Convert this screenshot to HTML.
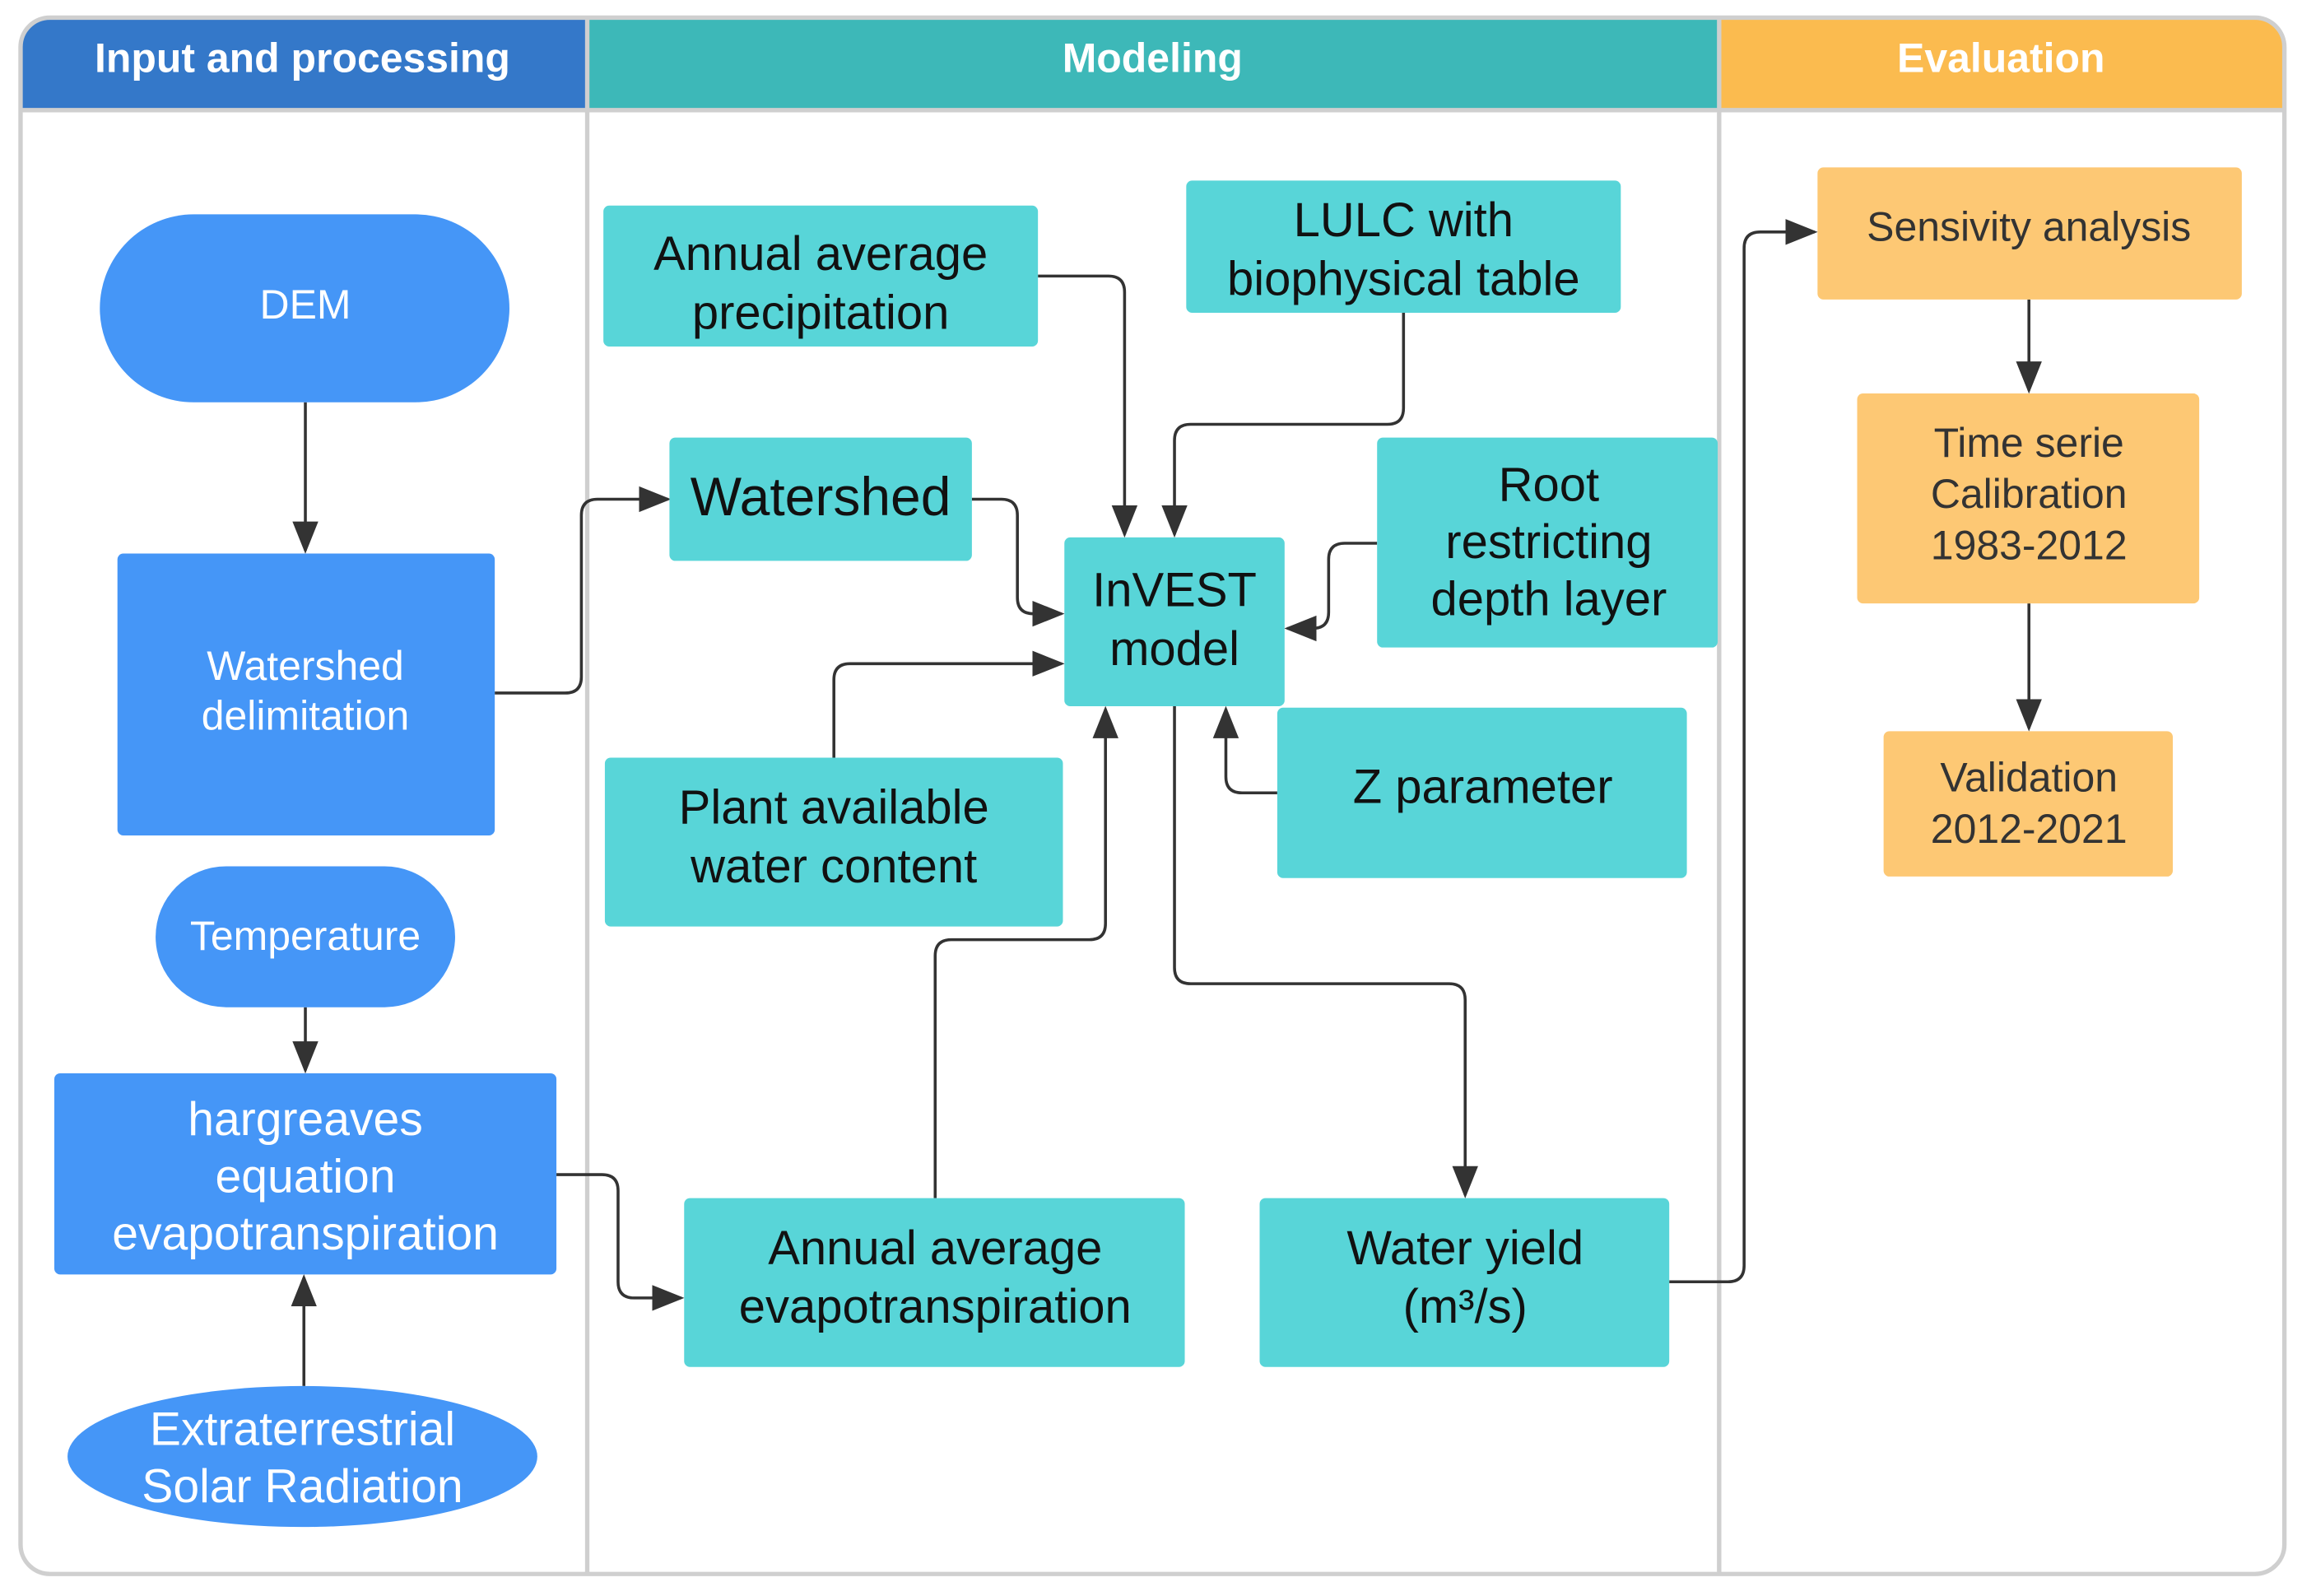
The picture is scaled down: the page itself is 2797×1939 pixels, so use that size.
<!DOCTYPE html>
<html><head><meta charset="utf-8"><style>
html,body{margin:0;padding:0;background:#fff;}
svg{display:block;}
text{font-family:"Liberation Sans",sans-serif;}
</style></head><body>
<svg width="2797" height="1939" viewBox="0 0 1568 1087" preserveAspectRatio="none" xmlns="http://www.w3.org/2000/svg">
<defs>
<marker id="b" viewBox="0 0 10 10" refX="9" refY="5" markerWidth="22" markerHeight="22" orient="auto" markerUnits="userSpaceOnUse"><path d="M0,1 L10,5 L0,9 z" fill="#333"/></marker>
</defs>
<rect width="1568" height="1087" fill="#fff"/>
<path d="M14,34 Q14,12 36,12 L399,12 L399,75 L14,75 z" fill="#3478c9"/>
<rect x="401" y="12" width="769" height="63" fill="#3db8b8"/>
<path d="M1172,12 L1534,12 Q1556,12 1556,34 L1556,75 L1172,75 z" fill="#fbbb4f"/>
<text x="206" y="49" font-size="28" font-weight="bold" fill="#fff" text-anchor="middle">Input and processing</text>
<text x="785" y="49" font-size="28" font-weight="bold" fill="#fff" text-anchor="middle">Modeling</text>
<text x="1363" y="49" font-size="28" font-weight="bold" fill="#fff" text-anchor="middle">Evaluation</text>
<rect x="14" y="12" width="1542" height="1060" rx="20" fill="none" stroke="#cfcfcf" stroke-width="3"/>
<line x1="14" y1="75" x2="1556" y2="75" stroke="#cfcfcf" stroke-width="3"/>
<line x1="400" y1="12" x2="400" y2="1072" stroke="#cfcfcf" stroke-width="3"/>
<line x1="1171" y1="12" x2="1171" y2="1072" stroke="#cfcfcf" stroke-width="3"/>

<g fill="none" stroke="#333" stroke-width="2" stroke-linejoin="round" marker-end="url(#b)">
<path d="M208,274 V375"/>
<path d="M337,472 H385 Q396,472 396,461 V351 Q396,340 407,340 H455"/>
<path d="M208,686 V729"/>
<path d="M207,944 V870"/>
<path d="M379,800 H410 Q421,800 421,811 V873 Q421,884 432,884 H464"/>
<path d="M707,188 H755 Q766,188 766,199 V364"/>
<path d="M956,213 V278 Q956,289 945,289 H811 Q800,289 800,300 V364"/>
<path d="M662,340 H682 Q693,340 693,351 V407 Q693,418 704,418 H723"/>
<path d="M568,516 V463 Q568,452 579,452 H723"/>
<path d="M938,370 H916 Q905,370 905,381 V417 Q905,428 894,428 H877"/>
<path d="M870,540 H846 Q835,540 835,529 V483"/>
<path d="M637,816 V651 Q637,640 648,640 H742 Q753,640 753,629 V483"/>
<path d="M800,481 V659 Q800,670 811,670 H987 Q998,670 998,681 V814"/>
<path d="M1137,873 H1177 Q1188,873 1188,862 V169 Q1188,158 1199,158 H1236"/>
<path d="M1382,204 V266"/>
<path d="M1382,411 V496"/>
</g>

<g fill="#4596f7">
<rect x="68" y="146" width="279" height="128" rx="64"/>
<rect x="80" y="377" width="257" height="192" rx="4"/>
<rect x="106" y="590" width="204" height="96" rx="48"/>
<rect x="37" y="731" width="342" height="137" rx="4"/>
<ellipse cx="206" cy="992" rx="160" ry="48"/>
</g>
<g fill="#fff" text-anchor="middle">
<text x="208" y="217" font-size="28">DEM</text>
<text x="208" y="463" font-size="28">Watershed</text>
<text x="208" y="497" font-size="28">delimitation</text>
<text x="208" y="647" font-size="28">Temperature</text>
<text x="208" y="773" font-size="32">hargreaves</text>
<text x="208" y="812" font-size="32">equation</text>
<text x="208" y="851" font-size="32">evapotranspiration</text>
<text x="206" y="984" font-size="32">Extraterrestrial</text>
<text x="206" y="1023" font-size="32">Solar Radiation</text>
</g>

<g fill="#58d5d8">
<rect x="411" y="140" width="296" height="96" rx="4"/>
<rect x="808" y="123" width="296" height="90" rx="4"/>
<rect x="456" y="298" width="206" height="84" rx="4"/>
<rect x="725" y="366" width="150" height="115" rx="4"/>
<rect x="938" y="298" width="232" height="143" rx="4"/>
<rect x="412" y="516" width="312" height="115" rx="4"/>
<rect x="870" y="482" width="279" height="116" rx="4"/>
<rect x="466" y="816" width="341" height="115" rx="4"/>
<rect x="858" y="816" width="279" height="115" rx="4"/>
</g>
<g fill="#111" text-anchor="middle" font-size="32.5">
<text x="559" y="184">Annual average</text>
<text x="559" y="224">precipitation</text>
<text x="956" y="161">LULC with</text>
<text x="956" y="201">biophysical table</text>
<text x="559" y="351" font-size="37">Watershed</text>
<text x="800" y="413">InVEST</text>
<text x="800" y="453">model</text>
<text x="1055" y="341">Root</text>
<text x="1055" y="380">restricting</text>
<text x="1055" y="419">depth layer</text>
<text x="568" y="561">Plant available</text>
<text x="568" y="601">water content</text>
<text x="1010" y="547">Z parameter</text>
<text x="637" y="861">Annual average</text>
<text x="637" y="901">evapotranspiration</text>
<text x="998" y="861">Water yield</text>
<text x="998" y="901">(m³/s)</text>
</g>

<g fill="#fdc874">
<rect x="1238" y="114" width="289" height="90" rx="4"/>
<rect x="1265" y="268" width="233" height="143" rx="4"/>
<rect x="1283" y="498" width="197" height="99" rx="4"/>
</g>
<g fill="#333" text-anchor="middle" font-size="28">
<text x="1382" y="164">Sensivity analysis</text>
<text x="1382" y="311">Time serie</text>
<text x="1382" y="346">Calibration</text>
<text x="1382" y="381">1983-2012</text>
<text x="1382" y="539">Validation</text>
<text x="1382" y="574">2012-2021</text>
</g>
</svg>
</body></html>
